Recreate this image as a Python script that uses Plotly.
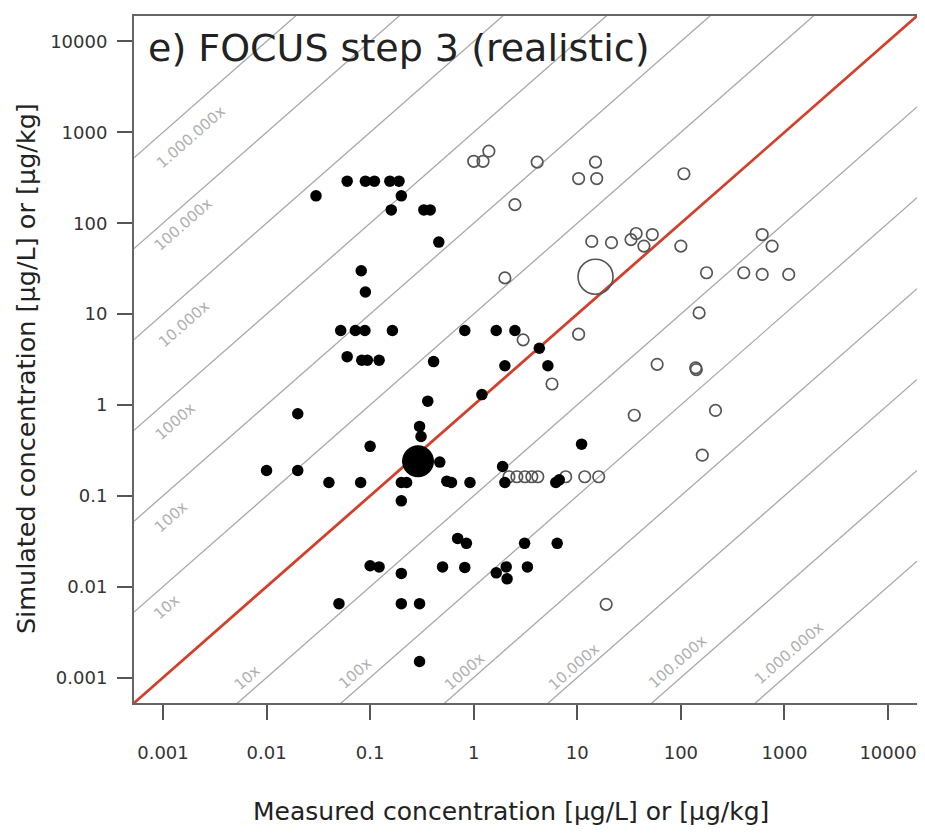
import math
import plotly.graph_objects as go

# ---------------- data ----------------
filled_measured = [0.03, 0.06, 0.09, 0.11, 0.155, 0.19, 0.2, 0.16, 0.33, 0.38, 0.46,
                   0.082, 0.09, 0.052, 0.072, 0.089, 0.164, 0.82, 1.65, 2.5,
                   0.06, 0.083, 0.094, 0.122, 0.41, 2.0, 1.2, 4.3, 5.2, 0.36,
                   0.02, 0.3, 0.31, 0.1, 0.47, 0.01, 0.02, 0.04, 0.081, 0.2,
                   0.225, 0.55, 0.61, 0.92, 1.9, 2.0, 6.2, 6.7, 11, 0.2,
                   0.7, 0.85, 3.1, 6.4, 0.1, 0.122, 0.2, 0.5, 0.82, 1.65,
                   2.06, 2.1, 3.3, 0.05, 0.2, 0.3, 0.3]
filled_simulated = [200, 290, 290, 290, 290, 290, 200, 140, 140, 140, 62,
                    30, 17.5, 6.6, 6.6, 6.6, 6.6, 6.6, 6.6, 6.6,
                    3.4, 3.1, 3.1, 3.1, 3.0, 2.7, 1.3, 4.2, 2.7, 1.1,
                    0.8, 0.58, 0.45, 0.35, 0.235, 0.19, 0.19, 0.14, 0.14, 0.14,
                    0.14, 0.145, 0.14, 0.14, 0.21, 0.14, 0.14, 0.15, 0.37, 0.088,
                    0.034, 0.03, 0.03, 0.03, 0.017, 0.0165, 0.014, 0.0165, 0.0163, 0.0142,
                    0.0165, 0.0122, 0.0165, 0.0065, 0.0065, 0.0065, 0.0015]

open_measured = [1.0, 1.23, 1.4, 4.1, 10.3, 15, 15.4, 107, 2.5, 2.0,
                 13.8, 21.4, 33, 37, 44, 53, 100, 610, 760,
                 177, 405, 610, 1100, 150, 10.3, 3.0, 5.7, 59, 139, 141,
                 35.5, 216, 161, 19,
                 2.19, 2.61, 3.12, 3.64, 4.16, 7.73, 11.8, 16.1]
open_simulated = [480, 480, 620, 470, 310, 470, 310, 350, 160, 25,
                  63, 61, 66, 77, 56, 75, 56, 75, 56,
                  28.5, 28.5, 27.3, 27.3, 10.3, 6.0, 5.2, 1.7, 2.8, 2.56, 2.45,
                  0.77, 0.87, 0.28, 0.0064,
                  0.162, 0.162, 0.162, 0.162, 0.162, 0.162, 0.162, 0.162]

big_filled_measured = [0.29]
big_filled_simulated = [0.24]
big_open_measured = [15]
big_open_simulated = [25.7]

tick_values = [0.001, 0.01, 0.1, 1, 10, 100, 1000, 10000]
tick_labels = ["0.001", "0.01", "0.1", "1", "10", "100", "1000", "10000"]

factor_exponents = [1, 2, 3, 4, 5, 6]
factor_labels = ["10x", "100x", "1000x", "10.000x", "100.000x", "1.000.000x"]

title_text = "e) FOCUS step 3 (realistic)"
x_title = "Measured concentration [µg/L] or [µg/kg]"
y_title = "Simulated concentration [µg/L] or [µg/kg]"

# ---------------- layout constants ----------------
PAGE_OFF = 8               # default body margin of the html page
W, H = 917, 829
ML, MR, MT, MB = 126, 7, 6, 134
XR = [-3.28, 4.28]
YR = [-3.28, 4.28]
FONT = "DejaVu Sans"

pw = W - ML - MR
ph = H - MT - MB
angle = math.degrees(math.atan((ph / (YR[1] - YR[0])) / (pw / (XR[1] - XR[0]))))


def paper_x(page_px):
    return (page_px - PAGE_OFF - ML) / pw


def paper_y(page_py):
    return (H - MB - (page_py - PAGE_OFF)) / ph


fig = go.Figure()

# reference lines (1:1 and factor lines)
xs_line = [10 ** XR[0], 10 ** XR[1]]
for k in factor_exponents:
    for s in (1, -1):
        fig.add_trace(go.Scatter(
            x=xs_line, y=[v * 10 ** (s * k) for v in xs_line], mode="lines",
            line=dict(color="#a8a8a8", width=1.3), hoverinfo="skip", showlegend=False))
fig.add_trace(go.Scatter(
    x=xs_line, y=xs_line, mode="lines",
    line=dict(color="#d2402c", width=2.8), hoverinfo="skip", showlegend=False))

# points
fig.add_trace(go.Scatter(
    x=open_measured, y=open_simulated, mode="markers",
    marker=dict(symbol="circle-open", size=11.5, color="#555555", line=dict(width=1.7)),
    showlegend=False))
fig.add_trace(go.Scatter(
    x=filled_measured, y=filled_simulated, mode="markers",
    marker=dict(symbol="circle", size=11.5, color="black"),
    showlegend=False))
fig.add_trace(go.Scatter(
    x=big_filled_measured, y=big_filled_simulated, mode="markers",
    marker=dict(symbol="circle", size=32, color="black"),
    showlegend=False))
fig.add_trace(go.Scatter(
    x=big_open_measured, y=big_open_simulated, mode="markers",
    marker=dict(symbol="circle-open", size=35, color="#555555", line=dict(width=1.6)),
    showlegend=False))

annotations = []
# factor labels above the 1:1 line (upper-left) and below (lower-right)
upper_pos = [(-2.962, -2.229), (-2.923, -1.228), (-2.875, -0.182),
             (-2.798, 0.896), (-2.798, 1.986), (-2.730, 2.954)]
lower_pos = [(-2.192, -3.000), (-1.142, -2.945), (-0.093, -2.934),
             (0.965, -2.879), (1.966, -2.824), (3.044, -2.725)]
for lab, (ux, uy), (lx, ly) in zip(factor_labels, upper_pos, lower_pos):
    for (px, py) in ((ux, uy), (lx, ly)):
        annotations.append(dict(
            x=px, y=py, xref="x", yref="y", text=lab, showarrow=False,
            textangle=-angle, xanchor="center", yanchor="middle",
            font=dict(family=FONT, size=15, color="#b0b0b0")))

annotations.append(dict(
    x=paper_x(146), y=paper_y(46), xref="paper", yref="paper",
    text=title_text, showarrow=False, xanchor="left", yanchor="middle",
    font=dict(family=FONT, size=38, color="#222222")))
annotations.append(dict(
    x=paper_x(511), y=paper_y(812), xref="paper", yref="paper",
    text=x_title, showarrow=False, xanchor="center", yanchor="middle",
    font=dict(family=FONT, size=25, color="#222222")))
annotations.append(dict(
    x=paper_x(26), y=paper_y(368), xref="paper", yref="paper",
    text=y_title, showarrow=False, xanchor="center", yanchor="middle",
    textangle=-90, font=dict(family=FONT, size=25.5, color="#222222")))

axis_common = dict(
    type="log", tickvals=tick_values, ticktext=tick_labels,
    ticks="outside", ticklen=15, tickwidth=1.5, tickcolor="#555555",
    showline=True, linecolor="#666666", linewidth=2, mirror=True,
    showgrid=False, zeroline=False,
    tickfont=dict(family=FONT, size=18, color="#333333"))

fig.update_layout(
    width=W, height=H,
    margin=dict(l=ML, r=MR, t=MT, b=MB),
    paper_bgcolor="white", plot_bgcolor="white",
    xaxis=dict(range=XR, ticklabelstandoff=17, **axis_common),
    yaxis=dict(range=YR, ticklabelstandoff=6, **axis_common),
    annotations=annotations,
    showlegend=False)

fig.write_html("out.html")
